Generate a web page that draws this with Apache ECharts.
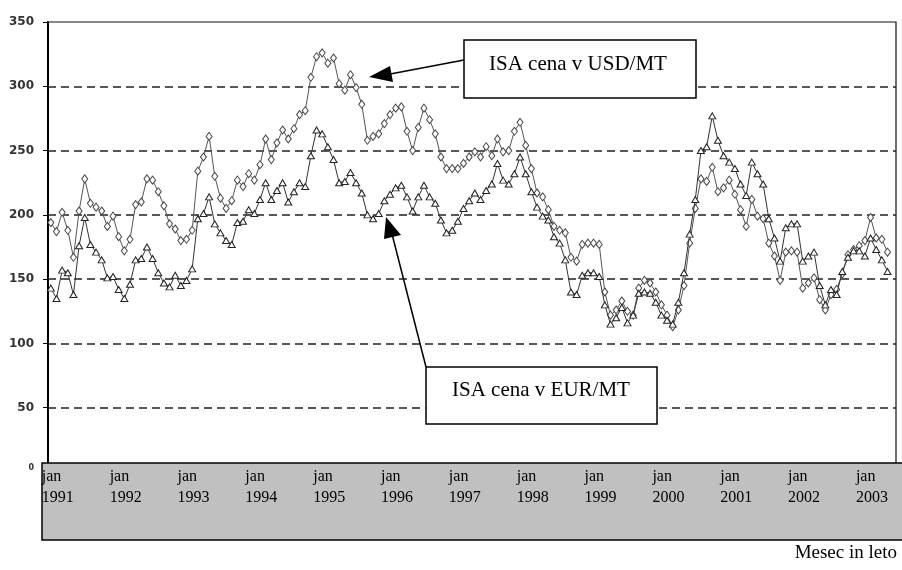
<!DOCTYPE html>
<html>
<head>
<meta charset="utf-8">
<script src="https://cdn.jsdelivr.net/npm/echarts@6/dist/echarts.min.js"></script>
<style>
  html, body { margin: 0; padding: 0; background: #fff; }
  #chart { width: 902px; height: 570px; }
</style>
</head>
<body>
<div id="chart"></div>
<script>
// mesecne cene ISA, jan 1991 - maj 2003
var monthNames = ['jan', 'feb', 'mar', 'apr', 'maj', 'jun', 'jul', 'avg', 'sep', 'okt', 'nov', 'dec'];
var years = [1991, 1992, 1993, 1994, 1995, 1996, 1997, 1998, 1999, 2000, 2001, 2002, 2003];

var usdPrice = [
    194, 187, 202, 188, 167, 203, 228, 209, 206, 203, 191, 199,
    183, 172, 181, 208, 210, 228, 227, 218, 207, 193, 189, 180,
    181, 188, 234, 245, 261, 230, 213, 205, 211, 227, 222, 232,
    227, 239, 259, 243, 256, 266, 259, 267, 278, 281, 307, 323,
    326, 318, 322, 302, 297, 309, 299, 286, 258, 261, 263, 271,
    278, 283, 284, 265, 250, 268, 283, 274, 263, 245, 236, 236,
    236, 240, 245, 249, 245, 253, 246, 259, 249, 250, 265, 272,
    254, 236, 217, 214, 204, 191, 188, 186, 167, 164, 177, 178,
    178, 177, 140, 122, 126, 133, 125, 122, 143, 149, 147, 140,
    130, 122, 113, 126, 145, 178, 205, 228, 226, 237, 218, 221,
    227, 216, 204, 191, 212, 199, 197, 178, 168, 149, 171, 172,
    171, 143, 147, 151, 134, 126, 138, 142, 154, 169, 173, 176,
    180, 198, 182, 181, 171
];

var eurPrice = [
    143, 135, 157, 155, 138, 176, 198, 177, 171, 165, 151, 152,
    142, 135, 146, 165, 166, 175, 166, 155, 147, 144, 153, 145,
    149, 158, 197, 201, 214, 193, 186, 180, 177, 194, 195, 204,
    201, 212, 225, 212, 219, 225, 210, 218, 225, 222, 246, 266,
    263, 253, 243, 225, 226, 233, 225, 217, 200, 197, 201, 211,
    216, 221, 223, 214, 203, 214, 223, 214, 209, 196, 186, 188,
    195, 205, 211, 217, 212, 219, 224, 240, 227, 224, 232, 245,
    232, 218, 206, 199, 196, 183, 178, 165, 140, 138, 153, 155,
    155, 152, 130, 115, 120, 128, 116, 122, 139, 140, 139, 132,
    122, 118, 115, 132, 155, 185, 212, 250, 253, 277, 258, 246,
    241, 236, 224, 215, 241, 232, 224, 197, 182, 164, 190, 193,
    193, 164, 168, 171, 145, 130, 142, 138, 156, 167, 172, 172,
    168, 182, 173, 165, 156
];

var yTicks = [0, 50, 100, 150, 200, 250, 300, 350];

// os x: vsi meseci od jan 1991 do jun 2003
var months = [];
for (var y = 0; y < years.length; y++) {
    for (var m = 0; m < 12; m++) {
        if (years[y] === 2003 && m > 5) break;
        months.push(monthNames[m] + ' ' + years[y]);
    }
}

var myChart = echarts.init(document.getElementById('chart'));

var serif = '"Liberation Serif", "Times New Roman", serif';

var options = {
    animation: false,
    backgroundColor: '#fff',
    grid: {
        left: 48,
        top: 22,
        right: 6,
        bottom: 98,
        show: true,
        borderColor: '#111',
        borderWidth: 1.2
    },
    xAxis: {
        type: 'category',
        data: months,
        boundaryGap: true,
        z: 10,
        axisLine: { show: false },
        axisTick: { show: false },
        splitLine: { show: false },
        axisLabel: {
            interval: function (idx) { return idx % 12 === 0; },
            formatter: function (val) { return val.split(' ').join('\n'); },
            align: 'left',
            padding: [0, 0, 0, -9],
            margin: -6,
            fontFamily: serif,
            fontSize: 16,
            lineHeight: 21,
            color: '#000'
        }
    },
    yAxis: {
        type: 'value',
        min: yTicks[0],
        max: yTicks[yTicks.length - 1],
        interval: 50,
        axisLine: { show: true, lineStyle: { color: '#000', width: 2 } },
        axisTick: { show: true, length: 5, lineStyle: { color: '#000', width: 1 } },
        splitLine: {
            show: true,
            showMinLine: false,
            showMaxLine: false,
            lineStyle: { color: '#222', width: 1.5, type: [8, 5] }
        },
        axisLabel: {
            margin: 14,
            fontFamily: '"DejaVu Sans", Arial, sans-serif',
            fontWeight: 'bold',
            fontSize: 12,
            color: '#333',
            formatter: function (v) { return v === 0 ? '{s|0}' : String(v); },
            rich: { s: { fontSize: 8, fontWeight: 'bold', color: '#333', padding: [0, 0, 8, 0] } }
        }
    },
    series: [{
        name: 'ISA cena v USD/MT',
        type: 'line',
        data: usdPrice,
        symbol: 'diamond',
        symbolSize: [6, 8],
        showAllSymbol: true,
        lineStyle: { color: '#555', width: 1 },
        itemStyle: { color: '#fff', borderColor: '#444', borderWidth: 1 },
        z: 3
    }, {
        name: 'ISA cena v EUR/MT',
        type: 'line',
        data: eurPrice,
        symbol: 'triangle',
        symbolSize: [7, 6],
        showAllSymbol: true,
        lineStyle: { color: '#333', width: 1 },
        itemStyle: { color: '#fff', borderColor: '#222', borderWidth: 1 },
        z: 4
    }],
    graphic: [
        // siv pas pod grafom
        {
            type: 'rect', z: 5,
            shape: { x: 42, y: 463, width: 880, height: 77 },
            style: { fill: '#c0c0c0', stroke: '#000', lineWidth: 1.5 }
        },
        {
            type: 'text', z: 5,
            style: { x: 897, y: 553, text: 'Mesec in leto', align: 'right', verticalAlign: 'middle',
                font: '19px ' + serif, fill: '#000' }
        },
        // oznaka USD
        {
            type: 'polyline', z: 20,
            shape: { points: [[464, 60], [385, 75]] },
            style: { stroke: '#000', lineWidth: 1.5 }
        },
        {
            type: 'polygon', z: 20,
            shape: { points: [[369, 77], [390, 66], [393, 82]] },
            style: { fill: '#000' }
        },
        {
            type: 'rect', z: 20,
            shape: { x: 464, y: 40, width: 232, height: 58 },
            style: { fill: '#fff', stroke: '#000', lineWidth: 1.5 }
        },
        {
            type: 'text', z: 21,
            style: { x: 489, y: 64, text: 'ISA cena v USD/MT', verticalAlign: 'middle',
                font: '21px ' + serif, fill: '#000' }
        },
        // oznaka EUR
        {
            type: 'polyline', z: 20,
            shape: { points: [[426, 367], [392, 234]] },
            style: { stroke: '#000', lineWidth: 1.5 }
        },
        {
            type: 'polygon', z: 20,
            shape: { points: [[386, 217], [384, 239], [401, 235]] },
            style: { fill: '#000' }
        },
        {
            type: 'rect', z: 20,
            shape: { x: 426, y: 367, width: 231, height: 57 },
            style: { fill: '#fff', stroke: '#000', lineWidth: 1.5 }
        },
        {
            type: 'text', z: 21,
            style: { x: 452, y: 390, text: 'ISA cena v EUR/MT', verticalAlign: 'middle',
                font: '21px ' + serif, fill: '#000' }
        }
    ]
};

myChart.setOption(options, true);
</script>
</body>
</html>
